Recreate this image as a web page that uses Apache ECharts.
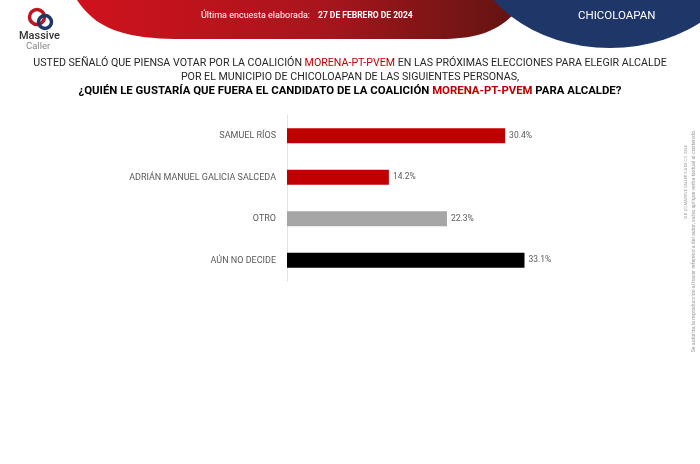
<!DOCTYPE html>
<html><head><meta charset="utf-8">
<script src="https://cdn.jsdelivr.net/npm/echarts@6/dist/echarts.min.js"></script>
<style>html,body{margin:0;padding:0;background:#fff}#c{width:700px;height:464px}</style>
</head><body><div id="c"></div>
<script>
const categories = ['SAMUEL RÍOS', 'ADRIÁN MANUEL GALICIA SALCEDA', 'OTRO', 'AÚN NO DECIDE'];
const values = [30.4, 14.2, 22.3, 33.1];
const barColors = ['#c00000', '#c00000', '#a6a6a6', '#000000'];
const surveyDate = '27 DE FEBRERO DE 2024';
const place = 'CHICOLOAPAN';

function bez(p0, p1, p2, p3, n) {
  const out = [];
  for (let i = 0; i <= n; i++) {
    const t = i / n, u = 1 - t;
    out.push([u*u*u*p0[0] + 3*u*u*t*p1[0] + 3*u*t*t*p2[0] + t*t*t*p3[0],
              u*u*u*p0[1] + 3*u*u*t*p1[1] + 3*u*t*t*p2[1] + t*t*t*p3[1]]);
  }
  return out;
}
const redPts = [].concat(
  bez([77, 0], [95, 27], [120, 38], [175, 39], 20),
  bez([440, 39], [480, 39], [505, 30], [525, 0], 20)
);

const chart = echarts.init(document.getElementById('c'), null, {renderer: 'canvas'});
const F = 'Roboto';
chart.setOption({
  backgroundColor: '#ffffff',
  animation: false,
  title: {
    left: 'center', top: 52,
    text: '{n|USTED SEÑALÓ QUE PIENSA VOTAR POR LA COALICIÓN }{r|MORENA-PT-PVEM}{n| EN LAS PRÓXIMAS ELECCIONES PARA ELEGIR ALCALDE}\n{n|POR EL MUNICIPIO DE CHICOLOAPAN DE LAS SIGUIENTES PERSONAS,}\n{b|¿QUIÉN LE GUSTARÍA QUE FUERA EL CANDIDATO DE LA COALICIÓN }{rb|MORENA-PT-PVEM}{b| PARA ALCALDE?}',
    textStyle: {
      fontFamily: F, fontWeight: 'normal', lineHeight: 13.5, align: 'center',
      rich: {
        n: {fontFamily: F, fontSize: 10.65, fontWeight: 'normal', color: '#262626', lineHeight: 13.5},
        r: {fontFamily: F, fontSize: 10.65, fontWeight: 'normal', color: '#c00000', lineHeight: 13.5},
        b: {fontFamily: F, fontSize: 11.4, fontWeight: 'bold', color: '#000000', lineHeight: 13.5},
        rb: {fontFamily: F, fontSize: 11.4, fontWeight: 'bold', color: '#c00000', lineHeight: 13.5}
      }
    }
  },
  grid: {left: 287, top: 115, width: 287, height: 166},
  xAxis: {type: 'value', min: 0, max: 40, show: false},
  yAxis: {
    type: 'category', data: categories, inverse: true,
    axisLine: {show: true, lineStyle: {color: '#e3e3e3', width: 1}},
    axisTick: {show: false},
    axisLabel: {color: '#595959', fontFamily: F, fontSize: 9, margin: 11}
  },
  series: [{
    type: 'bar', barWidth: 15,
    data: values.map((v, i) => ({value: v, itemStyle: {color: barColors[i]}})),
    label: {show: true, position: 'right', distance: 4, color: '#595959', fontFamily: F, fontSize: 8.5,
      formatter: p => p.value.toFixed(1) + '%'}
  }],
  graphic: [
    {type: 'polygon', z: 1, shape: {points: redPts},
      style: {fill: new echarts.graphic.LinearGradient(0, 0, 1, 0, [{offset: 0, color: '#d0121d'}, {offset: 0.55, color: '#a8151c'}, {offset: 1, color: '#5e1412'}])}},
    {type: 'circle', z: 2, x: 610, y: -60, scaleY: 108 / 140, shape: {cx: 0, cy: 0, r: 140}, style: {fill: '#1f3668'}},
    {type: 'text', z: 3, left: 201, top: 11, style: {text: 'Última encuesta elaborada:', fill: '#ffffff', font: '9px Roboto'}},
    {type: 'text', z: 3, left: 318, top: 11, style: {text: surveyDate, fill: '#ffffff', font: 'bold 8.5px Roboto'}},
    {type: 'text', z: 3, left: 578, top: 10, style: {text: place, fill: '#ffffff', font: '11.5px Roboto'}},
    {type: 'circle', z: 3, shape: {cx: 37, cy: 17, r: 7.5}, style: {fill: 'none', stroke: '#c0141f', lineWidth: 3.5}},
    {type: 'circle', z: 4, shape: {cx: 45, cy: 22, r: 6.5}, style: {fill: 'none', stroke: '#1f3668', lineWidth: 3.5}},
    {type: 'text', z: 3, left: 19, top: 31, style: {text: 'Massive', fill: '#333333', font: '500 11px Roboto'}},
    {type: 'text', z: 3, left: 26, top: 42, style: {text: 'Caller', fill: '#888888', font: '9.5px Roboto'}},
    {type: 'text', z: 3, x: 686, y: 182, rotation: Math.PI / 2,
      style: {text: 'D.R. (C) MASSIVE CALLER S.A DE C.V. 2024', fill: '#9a9a9a', font: '3.8px Roboto', align: 'center', verticalAlign: 'middle'}},
    {type: 'text', z: 3, x: 694, y: 241, rotation: Math.PI / 2,
      style: {text: 'Se autoriza la reproducción al hacer referencia del autor, salvo aplique verba textual al contenido.', fill: '#9a9a9a', font: '5.2px Roboto', align: 'center', verticalAlign: 'middle'}}
  ]
});
</script></body></html>
